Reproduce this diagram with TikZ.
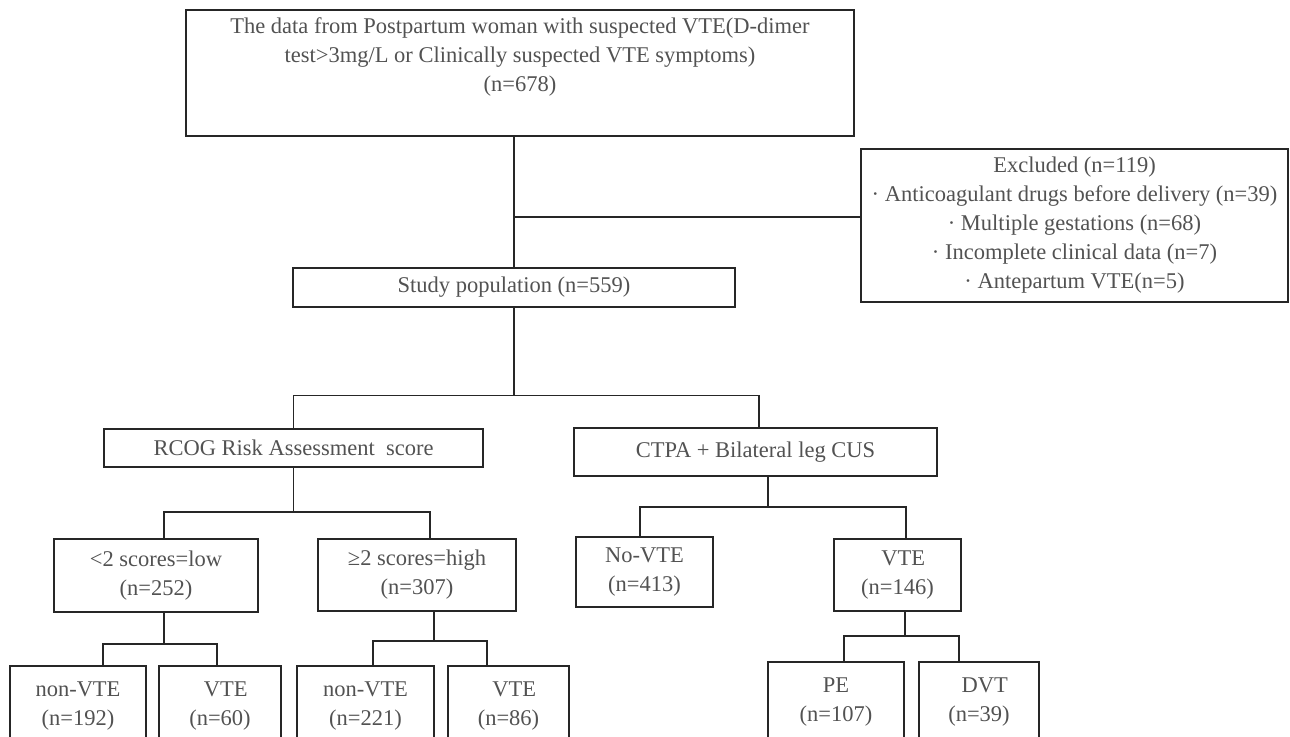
\documentclass[tikz,border=0pt]{standalone}
\usepackage{fontspec}
\setmainfont{Liberation Serif}
\usepackage{tikz}
\usetikzlibrary{positioning,calc}

\begin{document}
\begin{tikzpicture}[x=1pt,y=-1pt,font=\fontsize{22.5}{29}\selectfont,
 b/.style={draw=black!85,line width=1.6pt,text=black!68,align=center,inner sep=0pt},
 ln/.style={draw=black!85,line width=1.5pt}]
\useasboundingbox (0,0) rectangle (1290,736);
\clip (0,0) rectangle (1290,736);
% boxes
\node[b,minimum width=668pt,minimum height=126pt] (top) at (520,73)
 {The data from Postpartum woman with suspected VTE(D-dimer\\ test>3mg/L or Clinically suspected VTE symptoms)\\ (n=678)\\ \strut};
\node[b,minimum width=427pt,minimum height=153pt] (excl) at (1074.5,225.5)
 {Excluded (n=119)\\ · Anticoagulant drugs before delivery (n=39)\\ · Multiple gestations (n=68)\\ · Incomplete clinical data (n=7)\\ · Antepartum VTE(n=5)};
\node[b,minimum width=442pt,minimum height=39pt] (study) at (514,287.5) {Study population (n=559)};
\node[b,minimum width=379pt,minimum height=38pt] (rcog) at (293.5,448) {RCOG Risk Assessment\ \ score};
\node[b,minimum width=363pt,minimum height=48pt] (ctpa) at (755.5,452) {CTPA + Bilateral leg CUS};
\node[b,minimum width=204pt,minimum height=73pt] (low) at (156,575.5) {<2 scores=low\\ (n=252)};
\node[b,minimum width=198pt,minimum height=72pt] (high) at (417,575) {≥2 scores=high\\ (n=307)};
\node[b,minimum width=137pt,minimum height=70pt] (novte) at (644.5,572) {No-VTE\\ (n=413)};
\node[b,minimum width=127pt,minimum height=72pt] (vte) at (897.5,575) {\ \ VTE\\ (n=146)};
\node[b,minimum width=136pt,minimum height=80pt] (lownon) at (78,706) {non-VTE\\ (n=192)};
\node[b,minimum width=122pt,minimum height=80pt] (lowvte) at (220,706) {\ \ VTE\\ (n=60)};
\node[b,minimum width=137pt,minimum height=80pt] (highnon) at (365.5,706) {non-VTE\\ (n=221)};
\node[b,minimum width=121pt,minimum height=80pt] (highvte) at (508.5,706) {\ \ VTE\\ (n=86)};
\node[b,minimum width=136pt,minimum height=80pt] (pe) at (836,702) {PE\\ (n=107)};
\node[b,minimum width=120pt,minimum height=80pt] (dvt) at (979,702) {\ \ DVT\\ (n=39)};
% connectors
\draw[ln] (study.north) -- (study.north |- top.south);
\coordinate (exj) at (514,217);
\draw[ln] (exj) -- (exj -| excl.west);
\draw[ln] (study.south) -- ++(0,87.5) coordinate (sbus);
\draw[ln] (rcog.north) |- (sbus) -| ([xshift=3.5pt]ctpa.north);
\draw[ln] (rcog.south) -- ++(0,44) coordinate (rbus);
\draw[ln] ([xshift=8pt]low.north) |- (rbus) -| ([xshift=13pt]high.north);
\draw[ln] ([xshift=12.5pt]ctpa.south) -- ++(0,30) coordinate (cbus);
\draw[ln] ([xshift=-4.5pt]novte.north) |- (cbus) -| ([xshift=8.5pt]vte.north);
\draw[ln] ([xshift=8pt]low.south) -- ++(0,31) coordinate (lbus);
\draw[ln] ([xshift=25pt]lownon.north) |- (lbus) -| ([xshift=-3pt]lowvte.north);
\draw[ln] ([xshift=17pt]high.south) -- ++(0,29) coordinate (hbus);
\draw[ln] ([xshift=7.5pt]highnon.north) |- (hbus) -| ([xshift=-21.5pt]highvte.north);
\draw[ln] ([xshift=7.5pt]vte.south) -- ++(0,24) coordinate (vbus);
\draw[ln] ([xshift=8pt]pe.north) |- (vbus) -| ([xshift=-20pt]dvt.north);
\end{tikzpicture}
\end{document}
